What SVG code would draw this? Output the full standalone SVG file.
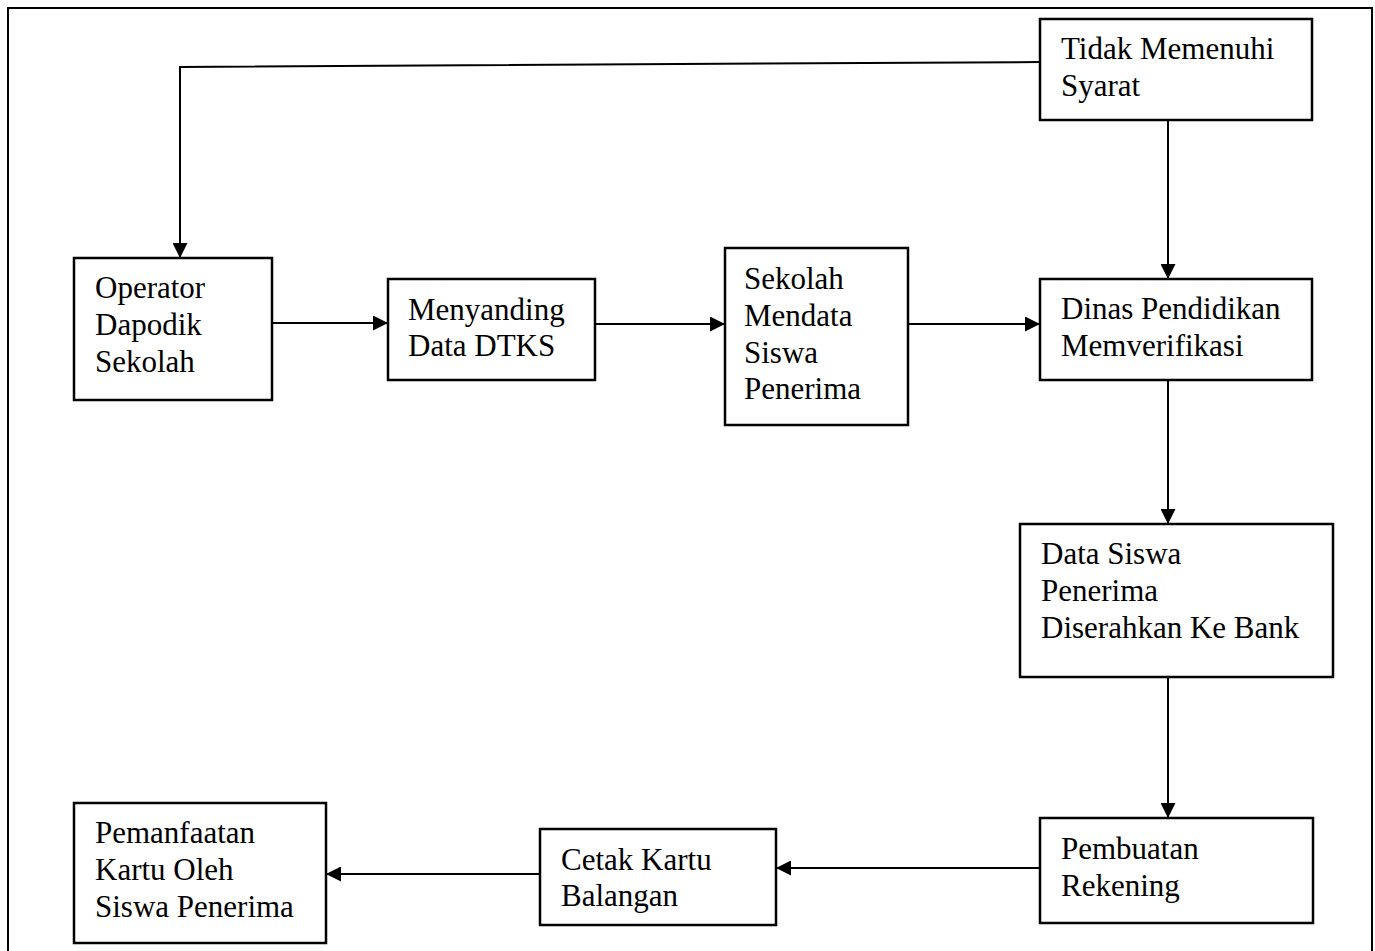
<svg xmlns="http://www.w3.org/2000/svg" width="1375" height="951" viewBox="0 0 1375 951">
<defs>
<marker id="arr" viewBox="0 0 10 10" refX="10" refY="5" markerWidth="15" markerHeight="15" markerUnits="userSpaceOnUse" orient="auto">
<path d="M0,0 L10,5 L0,10 Z" fill="#000"/>
</marker>
</defs>
<style>
.box{fill:#fff;stroke:#000;stroke-width:2.5}
.lbl{font-family:"Liberation Serif","Times New Roman",serif;font-size:31px;fill:#000}
.con{fill:none;stroke:#000;stroke-width:2}
</style>
<rect x="0" y="0" width="1375" height="951" fill="#fff"/>
<rect x="8" y="8" width="1364" height="980" fill="none" stroke="#000" stroke-width="2"/>
<g id="connectors">
<polyline class="con" points="1040,62 180,67 180,258" marker-end="url(#arr)"/>
<line class="con" x1="1168" y1="120" x2="1168" y2="279" marker-end="url(#arr)"/>
<line class="con" x1="272" y1="323" x2="388" y2="323" marker-end="url(#arr)"/>
<line class="con" x1="595" y1="324" x2="725" y2="324" marker-end="url(#arr)"/>
<line class="con" x1="908" y1="324" x2="1040" y2="324" marker-end="url(#arr)"/>
<line class="con" x1="1168" y1="380" x2="1168" y2="524" marker-end="url(#arr)"/>
<line class="con" x1="1168" y1="677" x2="1168" y2="818" marker-end="url(#arr)"/>
<line class="con" x1="1040" y1="868" x2="776" y2="868" marker-end="url(#arr)"/>
<line class="con" x1="540" y1="874" x2="326" y2="874" marker-end="url(#arr)"/>
</g>
<g id="tidak">
<rect class="box" x="1040" y="19" width="272" height="101"/>
<text class="lbl" x="1061" y="59">Tidak Memenuhi</text>
<text class="lbl" x="1061" y="96">Syarat</text>
</g>
<g id="operator">
<rect class="box" x="74" y="258" width="198" height="142"/>
<text class="lbl" x="95" y="298">Operator</text>
<text class="lbl" x="95" y="335">Dapodik</text>
<text class="lbl" x="95" y="372">Sekolah</text>
</g>
<g id="menyanding">
<rect class="box" x="388" y="279" width="207" height="101"/>
<text class="lbl" x="408" y="320">Menyanding</text>
<text class="lbl" x="408" y="356">Data DTKS</text>
</g>
<g id="sekolah">
<rect class="box" x="725" y="248" width="183" height="177"/>
<text class="lbl" x="744" y="289">Sekolah</text>
<text class="lbl" x="744" y="326">Mendata</text>
<text class="lbl" x="744" y="363">Siswa</text>
<text class="lbl" x="744" y="399">Penerima</text>
</g>
<g id="dinas">
<rect class="box" x="1040" y="279" width="272" height="101"/>
<text class="lbl" x="1061" y="319">Dinas Pendidikan</text>
<text class="lbl" x="1061" y="356">Memverifikasi</text>
</g>
<g id="datasiswa">
<rect class="box" x="1020" y="524" width="313" height="153"/>
<text class="lbl" x="1041" y="564">Data Siswa</text>
<text class="lbl" x="1041" y="601">Penerima</text>
<text class="lbl" x="1041" y="638">Diserahkan Ke Bank</text>
</g>
<g id="pembuatan">
<rect class="box" x="1040" y="818" width="273" height="105"/>
<text class="lbl" x="1061" y="859">Pembuatan</text>
<text class="lbl" x="1061" y="896">Rekening</text>
</g>
<g id="cetak">
<rect class="box" x="540" y="829" width="236" height="96"/>
<text class="lbl" x="561" y="870">Cetak Kartu</text>
<text class="lbl" x="561" y="906">Balangan</text>
</g>
<g id="pemanfaatan">
<rect class="box" x="74" y="803" width="252" height="140"/>
<text class="lbl" x="95" y="843">Pemanfaatan</text>
<text class="lbl" x="95" y="880">Kartu Oleh</text>
<text class="lbl" x="95" y="917">Siswa Penerima</text>
</g>
</svg>
